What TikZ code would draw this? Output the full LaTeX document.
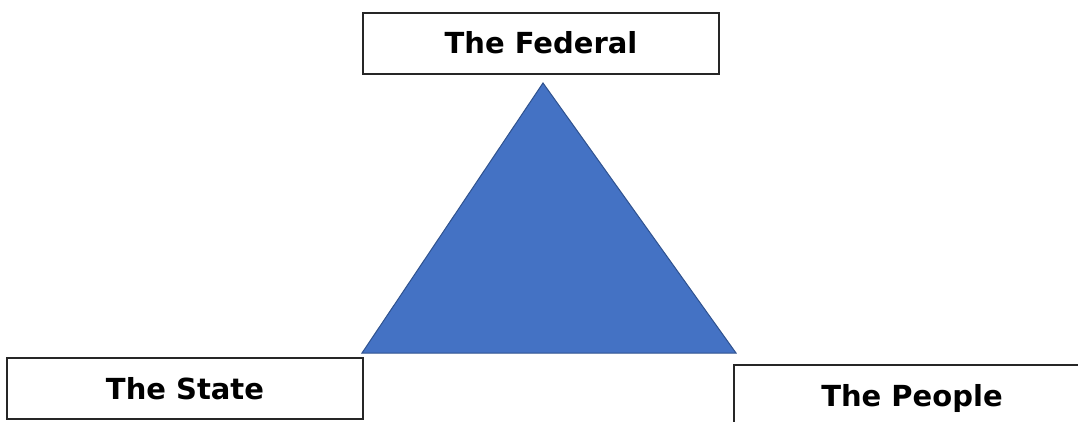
\documentclass[tikz,border=0pt]{standalone}
\usepackage{fontspec}
\setmainfont{DejaVu Sans}
\usepackage{xcolor}
\usepackage{tikz}

\definecolor{triblue}{HTML}{4472C4}
\definecolor{triedge}{HTML}{2F528F}

\tikzset{
    level box/.style={draw=black!85, line width=1.1pt, fill=white,
        minimum width=356pt, minimum height=61pt, inner sep=0pt,
        text height=21pt, text depth=0pt,
        font=\bfseries\fontsize{29}{34}\selectfont}
}

\begin{document}
\begin{tikzpicture}[x=1pt, y=-1pt]
    \useasboundingbox (0,0) rectangle (1078,422);
    \clip (0,0) rectangle (1078,422);

    \coordinate (Top) at (543,83);
    \coordinate (Left) at (362,353);
    \coordinate (Right) at (736,353);

    \draw[triedge, fill=triblue, line width=1pt]
            (Top) -- (Left) -- (Right) -- cycle;

    \node[level box] (federal) at (541,43.5) {The Federal};
    \node[level box] (state) at (185,388.5) {The State};
    \node[level box] (people) at (912,395.5) {The People};

\end{tikzpicture}
\end{document}
